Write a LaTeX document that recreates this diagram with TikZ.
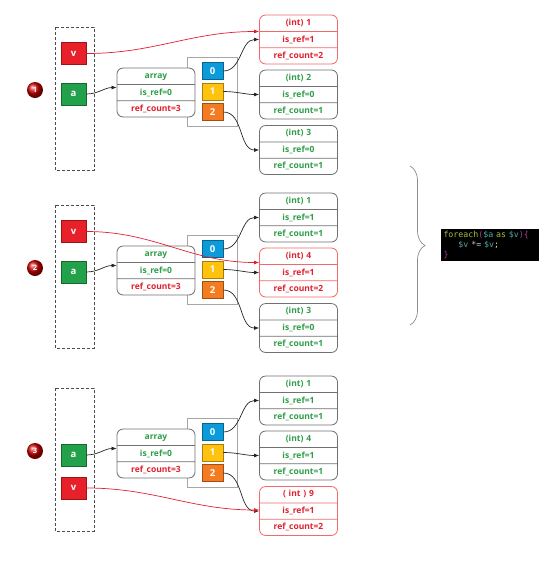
\documentclass[tikz,border=0pt]{standalone}
\usepackage{fontspec}
\setmainfont{Open Sans}
\setmonofont{DejaVu Sans Mono}
\usetikzlibrary{shapes.multipart, arrows.meta, decorations.pathreplacing}

\definecolor{txtgreen}{HTML}{2E9E48}
\definecolor{txtred}{HTML}{E0202F}
\definecolor{boxgray}{HTML}{707070}
\definecolor{lightred}{HTML}{F06A6A}
\definecolor{vfill}{HTML}{E8202A}
\definecolor{afill}{HTML}{22A04A}
\definecolor{idxblue}{HTML}{0B9BDB}
\definecolor{idxyellow}{HTML}{FFC20E}
\definecolor{idxorange}{HTML}{F47B20}
\definecolor{cdkey}{HTML}{A6BF3F}
\definecolor{cdbrk}{HTML}{B03A9E}
\definecolor{cdvar}{HTML}{4FA8A0}
\definecolor{cdop}{HTML}{C8C8C8}
\definecolor{cdsemi}{HTML}{E8E070}

\tikzset{
  record/.style={rectangle split, rectangle split parts=3, draw=boxgray, line width=0.8pt,
    rounded corners=6pt, fill=white, text width=70pt, align=center, inner xsep=4pt,
    inner ysep=3.8pt, text height=6pt, text depth=2pt, text=txtgreen,
    font=\fontsize{8.5}{9}\selectfont\bfseries},
  redrecord/.style={record, draw=lightred, text=txtred},
  var/.style={draw=#1!65!black, fill=#1, line width=0.6pt, minimum width=25pt,
    minimum height=22pt, inner sep=0pt, text=white, font=\fontsize{9.5}{10}\selectfont\bfseries},
  idx/.style={minimum width=21pt, minimum height=17pt},
  marker/.style={circle, shading=ball, ball color=red!80!black, minimum size=16pt,
    inner sep=0pt, text=white, font=\fontsize{7.5}{8}\selectfont\bfseries},
  stack/.style={draw=black!70, line width=0.7pt, dash pattern=on 3pt off 2pt},
  holder/.style={draw=black!35, line width=0.8pt},
  link/.style={-{Latex[length=5pt,width=4pt]}, line width=0.7pt, black!85},
  redlink/.style={link, txtred},
  codebox/.style={fill=black, minimum width=98pt, minimum height=32pt, text width=92pt,
    inner xsep=3pt, inner ysep=0pt, align=left, font=\ttfamily\fontsize{8.3}{10}\selectfont}
}

\begin{document}
\begin{tikzpicture}[x=1pt,y=-1pt]
\useasboundingbox (0,0) rectangle (558,566);

% step 1
\node[redrecord] (val10) at (298.5,39.5) {(int) 1\nodepart{two}is\_ref=1\nodepart{three}ref\_count=2};
\node[record] (val11) at (298.5,94.5) {(int) 2\nodepart{two}is\_ref=0\nodepart{three}ref\_count=1};
\node[record] (val12) at (298.5,150) {(int) 3\nodepart{two}is\_ref=0\nodepart{three}ref\_count=1};
\node[var=vfill] (v1) at (73.5,53.5) {v};

% step 2
\node[record] (val20) at (298.5,217.5) {(int) 1\nodepart{two}is\_ref=1\nodepart{three}ref\_count=1};
\node[redrecord] (val21) at (298.5,272.5) {(int) 4\nodepart{two}is\_ref=1\nodepart{three}ref\_count=2};
\node[record] (val22) at (298.5,328) {(int) 3\nodepart{two}is\_ref=0\nodepart{three}ref\_count=1};
\node[var=vfill] (v2) at (73.5,231.5) {v};

% step 3
\node[record] (val30) at (298.5,400.5) {(int) 1\nodepart{two}is\_ref=1\nodepart{three}ref\_count=1};
\node[record] (val31) at (298.5,455.5) {(int) 4\nodepart{two}is\_ref=1\nodepart{three}ref\_count=1};
\node[redrecord] (val32) at (298.5,511) {( int ) 9\nodepart{two}is\_ref=1\nodepart{three}ref\_count=2};
\node[var=vfill] (v3) at (73.5,488) {v};

% stack, array and buckets
\foreach \p/\dy in {1/0,2/178,3/361} {
  \begin{scope}[yshift=-\dy pt]
    \draw[stack] (55,27) rectangle (94,170);
    \node[marker] (n\p) at (35,90) {\p};
    \node[var=afill] (a\p) at (73.5,94) {a};
    \draw[holder] (187.5,57) rectangle (237.5,126);
    \node[record] (arr\p) at (156,92.5) {array\nodepart{two}is\_ref=0\nodepart{three}\textcolor{txtred}{ref\_count=3}};
    \draw[link] (a\p.east) to[out=0,in=180] ([yshift=5pt]arr\p.west);
    \foreach \k/\c in {0/idxblue,1/idxyellow,2/idxorange} {
      \node[var=\c, idx] (idx\p\k) at (212.5,71+20.5*\k) {\k};
      \draw[link] (idx\p\k.east) to[out=0,in=180] (val\p\k.west);
    }
  \end{scope}
}

% v references
\draw[redlink] (v1.east) to[out=0,in=180] ([yshift=8pt]val10.west);
\draw[redlink] (v2.east) to[out=0,in=180] ([yshift=10pt]val21.west);
\draw[redlink] (v3.east) to[out=0,in=180] ([yshift=1pt]val32.west);

% loop code
\draw[black!45, line width=0.7pt, decorate, decoration={brace, amplitude=15pt}] (410,166) -- (410,325);
\node[codebox] (code) at (489.5,245) {%
\textcolor{cdkey}{foreach}\textcolor{cdbrk}{(}\textcolor{cdvar}{\$a} \textcolor{cdkey}{as} \textcolor{cdvar}{\$v}\textcolor{cdbrk}{)\{}\\
\phantom{xxx}\textcolor{cdvar}{\$v} \textcolor{cdop}{*=} \textcolor{cdvar}{\$v}\textcolor{cdsemi}{;}\\
\textcolor{cdbrk}{\}}};
\end{tikzpicture}
\end{document}
